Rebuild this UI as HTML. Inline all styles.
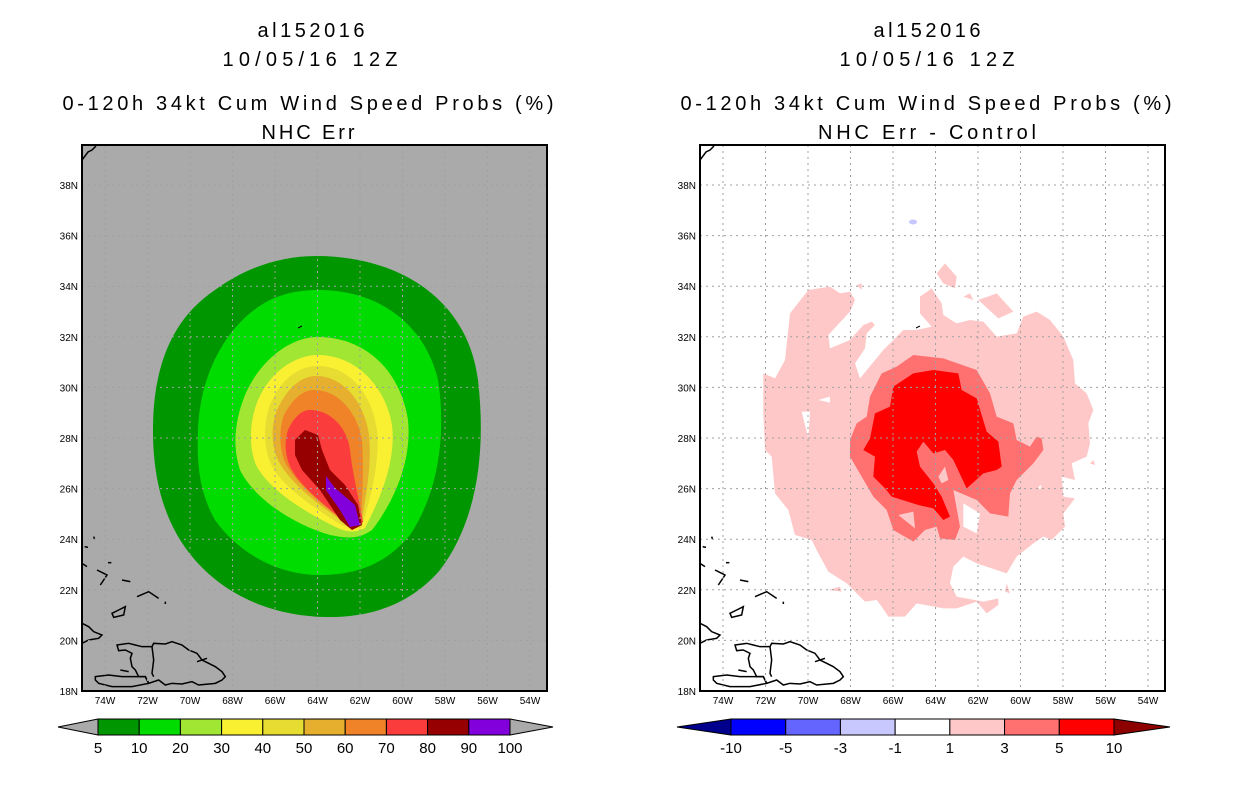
<!DOCTYPE html>
<html><head><meta charset="utf-8"><style>
html,body{margin:0;padding:0;background:#fff;}
svg{display:block;font-family:"Liberation Sans",sans-serif;}
</style></head><body>
<svg id="root" width="1236" height="800" viewBox="0 0 1236 800" xmlns="http://www.w3.org/2000/svg">
<defs>
<clipPath id="clipL"><rect x="82" y="145" width="465" height="546"/></clipPath>
<clipPath id="clipR"><rect x="700" y="145" width="465" height="546"/></clipPath>
</defs>

<!-- titles -->
<g font-size="20" text-anchor="middle" fill="#000">
<text x="311" y="37" textLength="107">al152016</text>
<text x="310" y="66" textLength="175">10/05/16 12Z</text>
<text x="308" y="110" textLength="491">0-120h 34kt Cum Wind Speed Probs (%)</text>
<text x="308" y="139" textLength="93">NHC Err</text>
</g>
<g font-size="20" text-anchor="middle" fill="#000">
<text x="927" y="37" textLength="107">al152016</text>
<text x="927" y="66" textLength="175">10/05/16 12Z</text>
<text x="926" y="110" textLength="491">0-120h 34kt Cum Wind Speed Probs (%)</text>
<text x="927" y="139" textLength="218">NHC Err - Control</text>
</g>

<!-- left map -->
<g id="leftMap" clip-path="url(#clipL)">
<rect x="82" y="145" width="465" height="546" fill="#aaaaaa"/>
<path fill="#009600" d="M316,256 C400,256 468,300 478,380 C486,450 478,520 440,570 C410,605 370,617 330,617 C280,617 230,600 195,560 C160,520 153,470 153,430 C153,370 170,320 215,290 C245,268 280,256 316,256Z"/>
<path fill="#00dc00" d="M318,290 C380,290 425,325 438,380 C446,430 440,490 410,535 C385,565 355,575 320,575 C280,575 240,555 215,520 C198,490 197,460 198,430 C200,370 230,320 270,300 C285,293 300,290 318,290Z"/>
<path fill="#a0e632" d="M318,337 C365,337 400,370 408,420 C412,460 395,500 372,530 C358,540 345,538 330,535 C295,525 255,500 240,470 C232,445 235,420 245,395 C260,360 290,337 318,337Z"/>
<path fill="#faf032" d="M318,355 C355,355 385,385 392,425 C396,460 382,495 365,528 C356,533 348,532 340,529 C310,515 270,492 256,465 C248,445 250,420 258,400 C270,372 295,355 318,355Z"/>
<path fill="#e6dc32" d="M318,366 C350,366 372,395 377,430 C380,460 372,492 362,527 C354,530 344,527 338,523 C310,505 280,485 270,462 C263,445 264,420 270,405 C280,380 298,366 318,366Z"/>
<path fill="#e6af2d" d="M316,376 C345,376 365,405 369,435 C372,465 366,495 361,526 C352,528 344,524 338,518 C312,500 288,480 278,460 C271,445 271,425 277,410 C286,390 300,376 316,376Z"/>
<path fill="#f08228" d="M314,390 C340,390 358,415 362,440 C364,470 362,500 361,524 C352,527 344,522 336,515 C314,498 294,480 285,462 C279,448 279,428 284,415 C292,400 302,390 314,390Z"/>
<path fill="#fa3c3c" d="M310,410 C332,410 348,430 350,450 C352,470 358,495 363,522 C356,528 346,524 338,516 C318,500 300,484 292,470 C285,458 284,442 288,430 C294,417 302,410 310,410Z"/>
<path fill="#960000" d="M295,440 L305,430 L318,435 L322,450 L330,470 L345,485 L358,505 L362,525 L352,530 L340,520 L320,490 L302,470 L295,455Z"/>
<path fill="#8200dc" d="M326,476 L335,488 L355,505 L360,525 L350,527 L340,510 L326,490Z"/>
<path fill="none" stroke="#000" d="M298,328 L302,326"/>
</g>

<!-- right map -->
<g id="rightMap" clip-path="url(#clipR)">
<rect x="700" y="145" width="465" height="546" fill="#ffffff"/>
<g transform="translate(750,250) scale(0.33333)">
<path fill="#ffc8c8" fill-rule="evenodd" d="M40,370 L75,385 L105,330 L120,190 L175,120 L240,110 L270,130 L300,125 L315,150 L300,185 L235,255 L240,295 L300,270 L340,225 L365,215 L375,225 L350,250 L345,295 L315,340 L330,385 L400,300 L460,240 L500,240 L545,230 L510,190 L510,140 L545,115 L575,160 L580,195 L620,220 L660,210 L700,215 L740,260 L800,250 L820,200 L860,185 L900,210 L940,260 L970,330 L975,400 L1010,430 L1030,480 L1015,520 L1020,580 L1010,620 L965,640 L975,690 L935,680 L940,740 L975,745 L940,790 L945,830 L905,870 L880,860 L850,880 L800,920 L770,970 L680,940 L640,920 L610,950 L600,1000 L620,1040 L700,1055 L745,1045 L745,1065 L710,1090 L680,1055 L620,1075 L580,1075 L500,1060 L465,1100 L415,1100 L395,1070 L380,1050 L345,1055 L290,1000 L235,965 L205,910 L185,870 L135,855 L115,780 L75,730 L65,620 L45,600 L40,490Z M205,450 L240,440 L240,458Z M155,485 L180,485 L175,565Z M640,760 L690,790 L680,850 L640,830Z M865,710 L875,705 L870,720Z"/>
<path fill="#ffc8c8" d="M560,70 L585,40 L620,80 L615,115 L580,100Z"/>
<path fill="#ffc8c8" d="M640,140 L660,130 L670,150Z"/>
<path fill="#ffc8c8" d="M685,150 L740,130 L790,185 L745,205Z"/>
<path fill="#ffc8c8" d="M320,105 L335,100 L335,120Z M235,1020 L270,1010 L275,1025 Z M770,1000 L780,1030 L765,1025Z M1020,640 L1030,630 L1035,645Z"/>
<path fill="#ff7070" fill-rule="evenodd" d="M300,570 L320,520 L350,500 L360,440 L395,370 L440,350 L490,315 L580,325 L680,360 L720,430 L740,500 L790,520 L800,570 L840,590 L860,560 L875,565 L880,600 L850,640 L800,690 L780,730 L775,800 L720,790 L680,750 L610,720 L630,830 L615,870 L570,865 L560,830 L525,840 L490,875 L430,840 L410,780 L370,740 L335,680 L300,620Z M445,795 L490,785 L495,835Z M565,680 L585,650 L595,690 L575,700Z"/>
<path fill="#ff0000" d="M340,600 L360,565 L375,490 L420,470 L430,410 L490,370 L550,360 L625,370 L635,420 L680,445 L710,545 L745,575 L755,650 L740,660 L700,670 L650,715 L610,630 L585,600 L550,610 L520,575 L500,605 L510,650 L550,700 L575,740 L600,800 L580,810 L550,775 L505,765 L425,740 L405,715 L370,680 L375,620Z"/>
</g>
<ellipse cx="913" cy="222" rx="4" ry="2.5" fill="#c8c8ff"/>
<path fill="none" stroke="#000" d="M916,328 L920,326"/>
</g>

<!-- colorbars -->
<g id="cbL"></g>
<g id="cbR"></g>

<script>
// colorbar data
const probLevels = ["5","10","20","30","40","50","60","70","80","90","100"];
const probColors = ["#009600","#00dc00","#a0e632","#faf032","#e6dc32","#e6af2d","#f08228","#fa3c3c","#960000","#8200dc"];
const diffLevels = ["-10","-5","-3","-1","1","3","5","10"];
const diffColors = ["#0000ff","#6464ff","#c8c8ff","#ffffff","#ffc8c8","#ff7070","#ff0000"];
const latTicks = [18,20,22,24,26,28,30,32,34,36,38];
const lonTicks = [74,72,70,68,66,64,62,60,58,56,54];

const NS = "http://www.w3.org/2000/svg";
function mk(tag, attrs, parent){ const e=document.createElementNS(NS,tag); for(const k in attrs) e.setAttribute(k,attrs[k]); parent.appendChild(e); return e; }

function xOf(lonW, x0){ return x0 + 23 + (74 - lonW) * 21.25; }
function yOf(lat){ return 691 - (lat - 18) * 25.3; }

const root = document.getElementById('root');
function coast(g, dx){
  const polys = [
    "M0,310 L20,320 L35,335 L60,345 L50,355 L20,360 L0,370",
    "M105,375 L140,370 L160,375 L180,380 L210,380 L215,370 L250,372 L270,365 L300,375 L320,390 L345,400 L360,420 L380,430 L400,440 L420,455 L430,470 L420,480 L400,490 L350,495 L330,485 L300,492 L270,490 L250,495 L230,480 L200,490 L190,470 L170,470 L160,450 L150,440 L145,415 L150,400 L130,390 L110,392 Z",
    "M40,470 L80,465 L120,470 L170,470 L190,470 L200,490 L150,500 L90,500 L50,490 L40,480 Z",
    "M210,380 L215,420 L210,460 L215,470",
    "M90,280 L110,270 L130,260 L125,285 L95,292 Z",
    "M165,230 L200,215 L230,235",
    "M45,150 L65,160 L75,165 L55,195",
    "M120,180 L145,185", "M78,128 L88,128", "M35,50 L38,58", "M8,80 L18,82", "M0,130 L15,140",
    "M115,450 L140,455", "M345,425 L375,415", "M250,245 L250,252"
  ];
  const cg = mk('g',{transform:`translate(${82+dx},520) scale(0.33333)`,fill:'none',stroke:'#000','stroke-width':4.5},g);
  
  
  polys.forEach(d=>mk('path',{d:d},cg));
  const ne = mk('path',{d:`M${82+dx},160 L${88+dx},152 L${92+dx},150 L${96+dx},146`,fill:'none',stroke:'#000','stroke-width':1.5},g);
  
  
}

function panel(x0, mapId){
  const g = document.getElementById(mapId);
  const dx = x0 - 82;
  coast(g, dx);
  lonTicks.forEach(l=>{
    const x = xOf(l,x0);
    const ln = mk('line',{x1:x,x2:x,y1:145,y2:691,stroke:'#a0a0a0','stroke-dasharray':'2,4','stroke-width':1},g);
    
    
  });
  latTicks.forEach(l=>{
    const y = yOf(l);
    const ln = mk('line',{x1:x0,x2:x0+465,y1:y,y2:y,stroke:'#a0a0a0','stroke-dasharray':'2,4','stroke-width':1},g);
    
    
  });
  const fr = mk('rect',{x:x0,y:145,width:465,height:546,fill:'none',stroke:'#000','stroke-width':2},root);
  
  
  latTicks.forEach(l=>{
    const t = mk('text',{x:x0-4,y:yOf(l)+4,'font-size':10,'text-anchor':'end'},root);
    t.textContent = l+'N';
    
    
  });
  lonTicks.forEach(l=>{
    const t = mk('text',{x:xOf(l,x0),y:704,'font-size':10,'text-anchor':'middle'},root);
    t.textContent = l+'W';
    
    
  });
}
panel(82,'leftMap');
panel(700,'rightMap');

function colorbar(gid, x0, x1, tipL, tipR, levels, colors, leftCap, rightCap){
  const g = document.getElementById(gid);
  const n = colors.length, w = (x1-x0)/n, y0=719, y1=735, ym=727;
  const l = mk('path',{d:`M${x0},${y0} L${tipL},${ym} L${x0},${y1}Z`,fill:leftCap,stroke:'#000','stroke-width':1},g);
  
  
  const r = mk('path',{d:`M${x1},${y0} L${tipR},${ym} L${x1},${y1}Z`,fill:rightCap,stroke:'#000','stroke-width':1},g);
  
  
  colors.forEach((c,i)=>{
    const b = mk('rect',{x:x0+i*w,y:y0,width:w,height:y1-y0,fill:c,stroke:'#000','stroke-width':1},g);
    
    
  });
  levels.forEach((lv,i)=>{
    const t = mk('text',{x:x0+i*w,y:753,'font-size':15,'text-anchor':'middle'},g);
    t.textContent = lv;
    
    
  });
}
colorbar('cbL', 98, 510, 58, 553, probLevels, probColors, '#aaaaaa', '#aaaaaa');
colorbar('cbR', 731, 1114, 677, 1170, diffLevels, diffColors, '#00008c', '#8c0000');
</script>
</svg>
</body></html>
